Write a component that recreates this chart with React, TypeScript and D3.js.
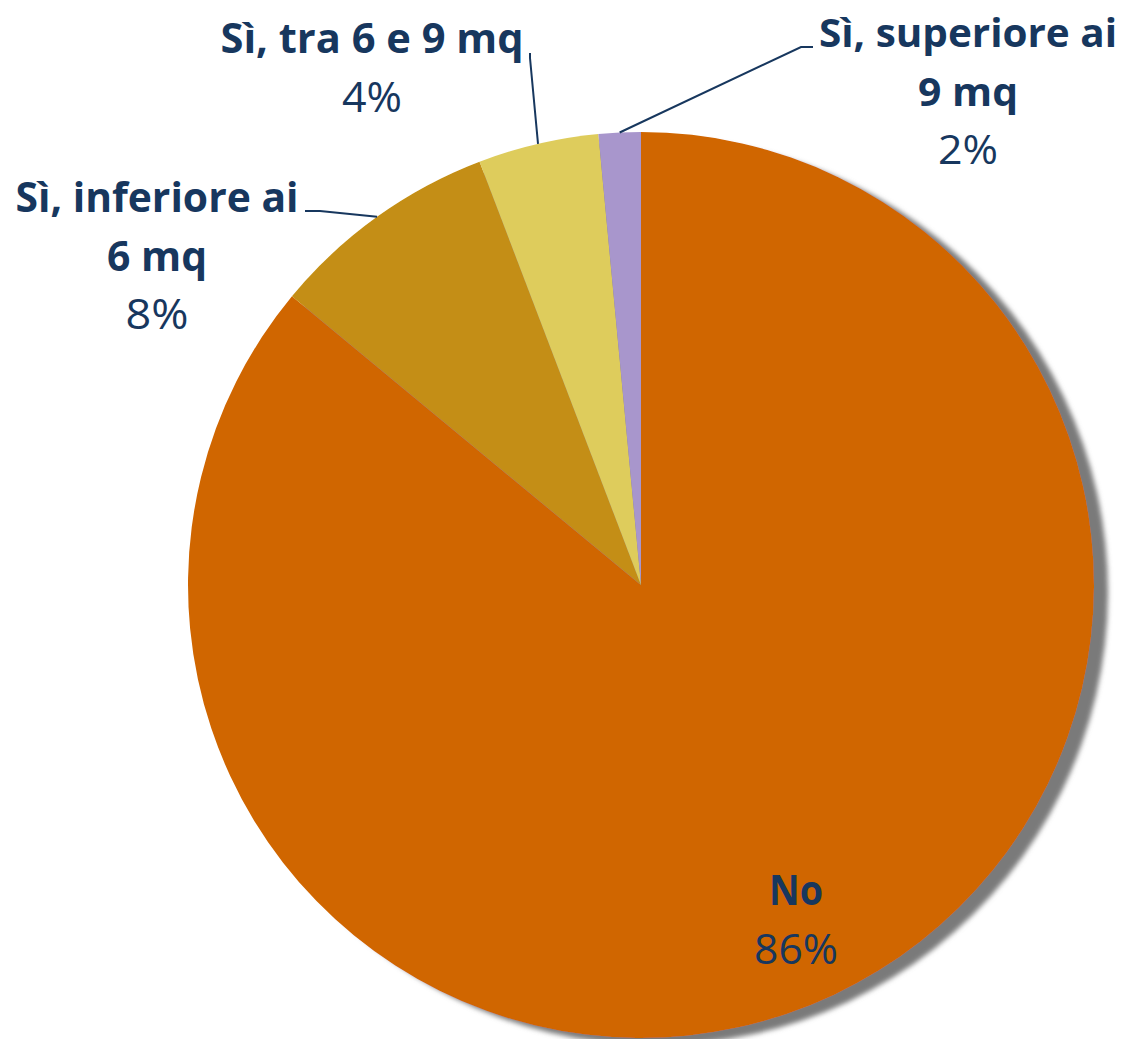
import React from "react";
import * as d3 from "d3";

const categories = ["No", "Sì, inferiore ai 6 mq", "Sì, tra 6 e 9 mq", "Sì, superiore ai 9 mq"];
const values = [86.0, 8.2, 4.3, 1.5];
const colors = ["#D06600", "#C48E12", "#DECC5C", "#A896CC"];
const labelLines = [["No"], ["Sì, inferiore ai", "6 mq"], ["Sì, tra 6 e 9 mq"], ["Sì, superiore ai", "9 mq"]];

// layout (positions of label blocks, not data)
const W = 1128;
const H = 1039;
const CX = 641;
const CY = 585;
const R = 453;
const LINE_H = 58.5;
const labelLayout = [
  { x: 796, y: 905, widths: [54, 84], size: 42, leader: null },
  { x: 157, y: 212, widths: [283, 100, 63], size: 42, leader: [[305, 211], [320, 211]] },
  { x: 372, y: 53, widths: [303, 60], size: 42, leader: [[530, 53], [530, 58]] },
  { x: 968, y: 47, widths: [298, 100, 60], size: 40, leader: [[813, 47], [801, 47]] },
];

const TEXT = "#17375E";
const FONT = "'Open Sans', 'Noto Sans', sans-serif";

export default function App() {
  const pie = d3.pie<number>().sort(null).value((d) => d)(values);
  const arc = d3.arc<d3.PieArcDatum<number>>().innerRadius(0).outerRadius(R);

  return (
    <svg width={W} height={H} style={{ position: "absolute", left: 0, top: 0, background: "#fff" }}>
      <defs>
        <filter id="shadow" x="-10%" y="-10%" width="125%" height="125%">
          <feDropShadow dx={14} dy={7} stdDeviation={2.5} floodColor="#7a7a7a" floodOpacity={1} />
        </filter>
      </defs>
      <g transform={`translate(${CX},${CY})`} filter="url(#shadow)">
        {pie.map((p, i) => (
          <path key={i} d={arc(p) || ""} fill={colors[i]} />
        ))}
      </g>
      {pie.map((p, i) => {
        const lay = labelLayout[i];
        if (!lay.leader) return null;
        const mid = (p.startAngle + p.endAngle) / 2;
        const ex = CX + R * Math.sin(mid);
        const ey = CY - R * Math.cos(mid);
        const pts = [...lay.leader, [ex, ey]];
        const line = d3.line()(pts as [number, number][]);
        return <path key={"l" + i} d={line || ""} fill="none" stroke={TEXT} strokeWidth={2} />;
      })}
      {pie.map((p, i) => {
        const lay = labelLayout[i];
        const lines = [...labelLines[i], `${Math.round(values[i])}%`];
        return (
          <g key={"t" + i}>
            {lines.map((t, j) => (
              <text
                key={j}
                x={lay.x}
                y={lay.y + j * LINE_H}
                textAnchor="middle"
                fontFamily={FONT}
                fontSize={lay.size}
                fontWeight={j === lines.length - 1 ? 400 : 700}
                fill={TEXT}
                textLength={lay.widths[j]}
                lengthAdjust="spacingAndGlyphs"
              >
                {t}
              </text>
            ))}
          </g>
        );
      })}
    </svg>
  );
}
